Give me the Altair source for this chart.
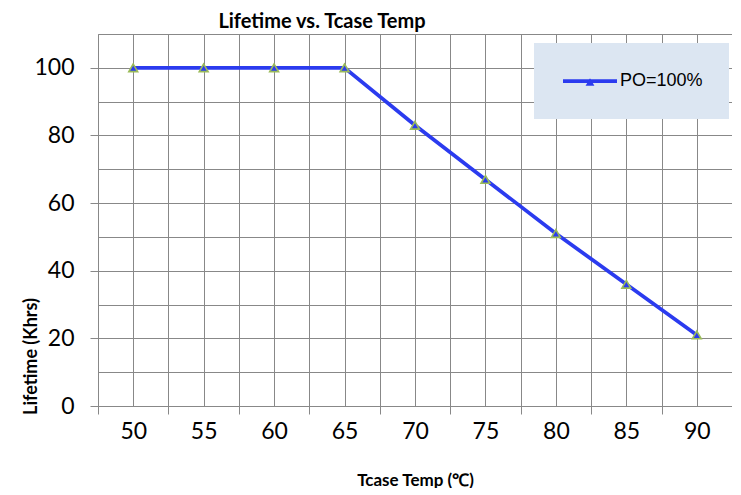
import altair as alt
import pandas as pd

# ---- data ----
temps = [50, 55, 60, 65, 70, 75, 80, 85, 90]
lifetimes = [100, 100, 100, 100, 83, 67, 51, 36, 21]
series_name = "PO=100%"
y_label_values = [0, 20, 40, 60, 80, 100]
y_minor_values = [10, 30, 50, 70, 90, 110]
y_max = 110
chart_title = "Lifetime vs. Tcase Temp"
x_title = "Tcase Temp (℃)"
y_title = "Lifetime (Khrs)"

step = 5
half = step / 2
x_min = temps[0] - half
x_max = temps[-1] + half
boundaries = [t - half for t in temps] + [x_max]

df = pd.DataFrame({"temp": temps, "life": lifetimes,
                   "series": series_name, "marker": series_name})

W, H = 634, 372
cat_px = W / len(temps)

BLUE = "#2b3bef"
GREEN = "#9bbb59"
GRID = "#888888"
LEGEND_BG = "#dce6f2"
FONT = "Lato"

x_scale = alt.Scale(domain=[x_min, x_max], nice=False, zero=False)
y_scale = alt.Scale(domain=[0, y_max], nice=False, zero=True)

line = alt.Chart(df).mark_line(strokeWidth=3.75).encode(
    x=alt.X("temp:Q", scale=x_scale, axis=alt.Axis(
        orient="bottom", values=boundaries, grid=True, gridColor=GRID, gridWidth=1,
        tickSize=8, tickColor=GRID, tickWidth=1, domainColor=GRID, domainWidth=1,
        labelExpr=f"datum.value < {x_max - 1} ? format(datum.value + {half}, 'd') : ''",
        labelOffset=cat_px / 2, labelPadding=6, labelFont=FONT, labelFontSize=23,
        labelColor="black", labelBaseline="top", labelAlign="center",
        labelFlush=False, labelOverlap=False,
        title=x_title, titleFont=FONT, titleFontSize=17, titleFontWeight="bold",
        titleColor="black", titleX=W / 2, titleY=79, titleBaseline="alphabetic",
        titleAlign="center")),
    y=alt.Y("life:Q", scale=y_scale, axis=alt.Axis(
        orient="left", values=y_label_values, grid=True, gridColor=GRID, gridWidth=1,
        tickSize=8, tickColor=GRID, tickWidth=1, domainColor=GRID, domainWidth=1,
        labelPadding=16, labelFont=FONT, labelFontSize=23, labelColor="black",
        labelFlush=False, labelOverlap=False,
        title=y_title, titleFont=FONT, titleFontSize=18, titleFontWeight="bold",
        titleColor="black", titleAngle=270, titleX=-62, titleY=322,
        titleAlign="center", titleBaseline="alphabetic")),
    color=alt.Color("series:N", scale=alt.Scale(range=[BLUE]), legend=alt.Legend(
        title=".", titleOrient="right", titleFontSize=8, titleColor=LEGEND_BG,
        titlePadding=12,
        orient="none", legendX=436, legendY=9,
        fillColor=LEGEND_BG, padding=11, clipHeight=54,
        symbolType="stroke", symbolSize=2916, symbolStrokeWidth=3.75,
        symbolOffset=16, labelOffset=1,
        labelFont="Liberation Sans", labelFontSize=18, labelColor="black")),
)

points = alt.Chart(df).mark_point(
    filled=True, fill=BLUE, stroke=GREEN, strokeWidth=1.6, size=78, opacity=1
).encode(
    x=alt.X("temp:Q", scale=x_scale, axis=alt.Axis(
        orient="top", values=temps, grid=True, gridColor=GRID, gridWidth=1,
        labels=False, ticks=False, domain=False, title=None)),
    y=alt.Y("life:Q", scale=y_scale, axis=alt.Axis(
        orient="right", values=y_minor_values, grid=True, gridColor=GRID, gridWidth=1,
        labels=False, ticks=False, domain=False, title=None)),
    shape=alt.Shape("marker:N", scale=alt.Scale(range=["triangle-up"]), legend=alt.Legend(
        title=None, orient="none", legendX=486.5, legendY=42.5, padding=0,
        symbolSize=78, symbolFillColor=BLUE, symbolStrokeColor=GREEN,
        symbolStrokeWidth=1.6, labelExpr="''", labelFontSize=1, labelOffset=0)),
)

chart = alt.layer(line, points).resolve_axis(
    x="independent", y="independent"
).properties(
    width=W, height=H,
    title=alt.TitleParams(chart_title, font=FONT, fontSize=20, fontWeight="bold",
                          color="black", anchor="middle", frame="group", dx=-93,
                          offset=2),
    autosize=alt.AutoSizeParams(type="none"),
    padding={"left": 90, "top": 26, "right": 0, "bottom": 82},
).configure_view(stroke=GRID, strokeWidth=1).configure(background="white")

chart.save("out.html", embed_options={"renderer": "svg", "actions": False})
